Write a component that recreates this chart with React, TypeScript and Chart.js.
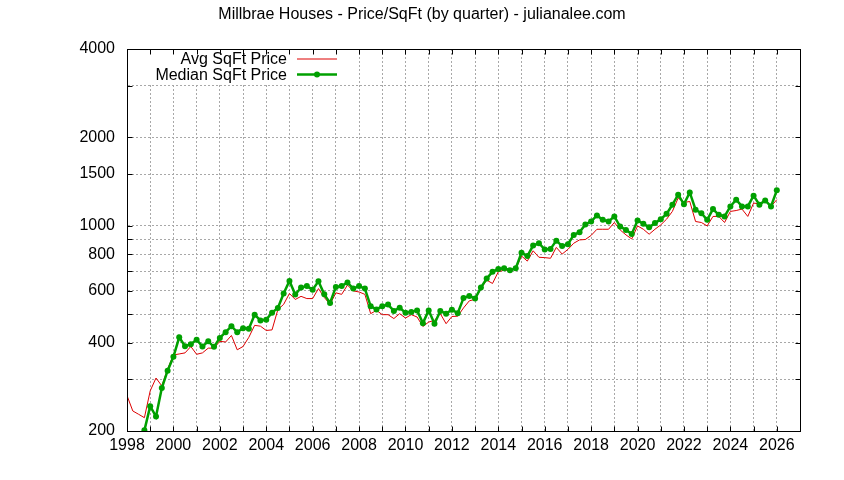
import React, { useEffect, useRef } from "react";
import { Chart, registerables } from "chart.js";

Chart.register(...registerables);

const chartTitle = "Millbrae Houses - Price/SqFt (by quarter) - julianalee.com";
const avgLabel = "Avg SqFt Price";
const medianLabel = "Median SqFt Price";

// both series are quarterly, these are the decimal years of their first points
const avgStart = 1998.0;
const medianStart = 1998.75;

const avgPrices = [
  264, 234, 228, 222,
  274, 303, 285, 325,
  363, 366, 369, 388,
  365, 369, 383, 383,
  404, 402, 423, 378,
  388, 417, 458, 455,
  440, 442, 518, 540,
  588, 561, 575, 565,
  565, 611, 570, 540,
  591, 584, 628, 600,
  595, 584, 502, 515,
  498, 498, 483, 502,
  485, 498, 489, 454,
  470, 476, 502, 464,
  491, 492, 525, 555,
  562, 611, 653, 636,
  697, 706, 706, 712,
  789, 758, 822, 781,
  779, 775, 844, 801,
  831, 872, 895, 898,
  927, 973, 973, 973,
  1026, 968, 931, 902,
  999, 973, 936, 973,
  1007, 1053, 1119, 1243,
  1200, 1210, 1034, 1026,
  999, 1076, 1076, 1026,
  1119, 1127, 1140, 1076,
  1195, 1187, 1227, 1164,
  1227,
];

const medianPrices = [
  201,
  243, 224, 280, 321,
  358, 417, 389, 395,
  409, 388, 404, 387,
  415, 434, 455, 434,
  448, 446, 498, 476,
  479, 506, 525, 588,
  649, 583, 616, 623,
  606, 647, 584, 546,
  619, 623, 641, 611,
  623, 611, 532, 519,
  532, 539, 513, 526,
  506, 509, 515, 466,
  515, 464, 513, 502,
  518, 504, 567, 577,
  565, 616, 661, 697,
  712, 716, 706, 716,
  810, 789, 856, 872,
  831, 834, 890, 853,
  865, 931, 951, 1010,
  1035, 1084, 1048, 1034,
  1076, 994, 968, 938,
  1042, 1015, 989, 1021,
  1053, 1098, 1179, 1276,
  1185, 1299, 1134, 1104,
  1048, 1140, 1090, 1076,
  1164, 1227, 1164, 1164,
  1266, 1179, 1220, 1164,
  1320,
];

const xMin = 1998;
const xMax = 2027;
const xLabelYears = [1998, 2000, 2002, 2004, 2006, 2008, 2010, 2012, 2014, 2016, 2018, 2020, 2022, 2024, 2026];
const yGridValues = [200, 300, 400, 500, 600, 700, 800, 900, 1000, 1500, 2000, 3000, 4000];
const yLabelValues = [200, 400, 600, 800, 1000, 1500, 2000, 4000];

const FONT = '"Liberation Sans", Arial, sans-serif';

const toPoints = (start: number, values: number[]) =>
  values.map((v, i) => ({ x: start + i * 0.25, y: v }));

// gnuplot-ish frame: title, opaque key, full border with inward ticks
const gnuplotLook = {
  id: "gnuplotLook",
  afterDatasetsDraw(chart: any) {
    const { ctx, chartArea: a } = chart;
    ctx.save();
    ctx.fillStyle = "#fff";
    ctx.fillRect(a.left + 1, a.top + 1, 346 - a.left, 82 - a.top);
    ctx.font = `16px ${FONT}`;
    ctx.textAlign = "right";
    ctx.textBaseline = "middle";
    chart.data.datasets.forEach((ds: any, i: number) => {
      const y = a.top + 10 + i * 15.5;
      ctx.fillStyle = "#000";
      ctx.fillText(ds.label, 287, y + 1);
      ctx.strokeStyle = ds.borderColor;
      ctx.lineWidth = ds.borderWidth;
      ctx.beginPath();
      ctx.moveTo(297, y);
      ctx.lineTo(337, y);
      ctx.stroke();
      if (ds.pointRadius > 0) {
        ctx.fillStyle = ds.pointBackgroundColor;
        ctx.beginPath();
        ctx.arc(317, y, ds.pointRadius, 0, Math.PI * 2);
        ctx.fill();
      }
    });
    ctx.restore();
  },
  afterDraw(chart: any) {
    const { ctx, chartArea: a, scales } = chart;
    const L = Math.round(a.left) + 0.5;
    const R = Math.round(a.right) + 0.5;
    const T = Math.round(a.top) + 0.5;
    const B = Math.round(a.bottom) + 0.5;
    ctx.save();
    ctx.setLineDash([]);
    ctx.strokeStyle = "#000";
    ctx.lineWidth = 1;
    ctx.strokeRect(L, T, R - L, B - T);
    ctx.beginPath();
    for (let yr = xMin; yr <= xMax; yr++) {
      const px = Math.round(scales.x.getPixelForValue(yr)) + 0.5;
      ctx.moveTo(px, B);
      ctx.lineTo(px, B - 5);
      ctx.moveTo(px, T);
      ctx.lineTo(px, T + 5);
    }
    yGridValues.forEach((v) => {
      const py = Math.round(scales.y.getPixelForValue(v)) + 0.5;
      ctx.moveTo(L, py);
      ctx.lineTo(L + 5, py);
      ctx.moveTo(R, py);
      ctx.lineTo(R - 5, py);
    });
    ctx.stroke();
    ctx.fillStyle = "#000";
    ctx.font = `16px ${FONT}`;
    ctx.textAlign = "center";
    ctx.textBaseline = "middle";
    ctx.fillText(chartTitle, chart.width / 2, 15);
    ctx.restore();
  },
};

const App: React.FC = () => {
  const chartRef = useRef<HTMLCanvasElement>(null);

  useEffect(() => {
    document.body.style.margin = "0";
    if (!chartRef.current) return;

    const gridOpts = { color: "#a8a8a8", lineWidth: 1, drawTicks: false };
    const borderOpts = { display: true, color: "#000", dash: [2, 2] };

    const chart = new Chart(chartRef.current, {
      type: "line",
      data: {
        datasets: [
          {
            label: avgLabel,
            data: toPoints(avgStart, avgPrices),
            borderColor: "#dd0000",
            backgroundColor: "#dd0000",
            borderWidth: 1,
            pointRadius: 0,
            tension: 0,
            order: 2,
          },
          {
            label: medianLabel,
            data: toPoints(medianStart, medianPrices),
            borderColor: "#00a000",
            backgroundColor: "#00a000",
            pointBackgroundColor: "#00a000",
            borderWidth: 2.5,
            pointRadius: 3,
            pointBorderWidth: 0,
            pointStyle: "circle",
            tension: 0,
            order: 1,
          },
        ],
      },
      options: {
        animation: false,
        responsive: false,
        layout: { padding: { top: 49, right: 44, left: 0, bottom: 0 } },
        plugins: {
          legend: { display: false },
          title: { display: false },
          tooltip: { enabled: false },
        },
        scales: {
          x: {
            type: "linear",
            min: xMin,
            max: xMax,
            afterBuildTicks: (scale: any) => {
              const t = [];
              for (let yr = xMin; yr <= xMax; yr++) t.push({ value: yr });
              scale.ticks = t;
            },
            afterFit: (scale: any) => {
              scale.height = 49;
            },
            ticks: {
              autoSkip: false,
              maxRotation: 0,
              padding: 5,
              color: "#000",
              font: { family: FONT, size: 16 },
              callback: (v: any) => (xLabelYears.includes(v) ? String(v) : ""),
            },
            grid: gridOpts,
            border: borderOpts,
          },
          y: {
            type: "logarithmic",
            min: 200,
            max: 4000,
            afterBuildTicks: (scale: any) => {
              scale.ticks = yGridValues.map((v) => ({ value: v }));
            },
            afterFit: (scale: any) => {
              scale.width = 127;
            },
            ticks: {
              autoSkip: false,
              padding: 12,
              color: "#000",
              font: { family: FONT, size: 16 },
              callback: (v: any) => (yLabelValues.includes(v) ? String(v) : ""),
            },
            grid: gridOpts,
            border: borderOpts,
          },
        },
      },
      plugins: [gnuplotLook],
    } as any);

    return () => {
      chart.destroy();
    };
  }, []);

  return (
    <div style={{ width: 844, height: 480 }}>
      <canvas ref={chartRef} width={844} height={480} />
    </div>
  );
};

export default App;
